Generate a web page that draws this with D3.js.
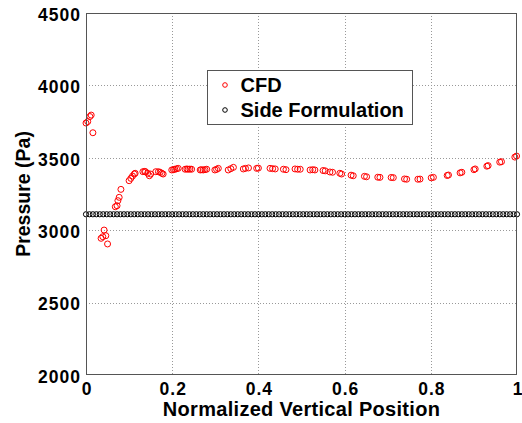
<!DOCTYPE html>
<html>
<head>
<meta charset="utf-8">
<script src="https://cdn.jsdelivr.net/npm/d3@7"></script>
<style>
  body { margin: 0; background: #fff; }
  text { font-family: "Liberation Sans", Arial, sans-serif; font-weight: bold; }
</style>
</head>
<body>
<svg id="chart" width="522" height="423"></svg>
<script>
// CFD samples (normalized position, pressure in Pa)
const cfdX = [
  0.000, 0.004, 0.009, 0.012, 0.016,
  0.035, 0.039, 0.042, 0.046, 0.050,
  0.068, 0.072, 0.074, 0.077, 0.081,
  0.100, 0.104, 0.108, 0.112, 0.114,
  0.132, 0.136, 0.138, 0.143, 0.147, 0.150,
  0.162, 0.168, 0.172, 0.176, 0.179,
  0.199, 0.203, 0.206, 0.210, 0.214,
  0.230, 0.234, 0.237, 0.241, 0.245,
  0.265, 0.268, 0.272, 0.276, 0.280,
  0.299, 0.303, 0.307,
  0.330, 0.336, 0.342,
  0.365, 0.370, 0.377, 0.396, 0.400,
  0.427, 0.433, 0.439, 0.458, 0.464,
  0.485, 0.491, 0.497, 0.520, 0.526, 0.531,
  0.550, 0.555, 0.566, 0.572, 0.589, 0.593,
  0.615, 0.620, 0.646, 0.651, 0.677, 0.682,
  0.708, 0.713, 0.739, 0.744, 0.770, 0.775,
  0.801, 0.806, 0.838, 0.841, 0.868, 0.872,
  0.900, 0.903, 0.930, 0.933, 0.960, 0.964,
  0.995, 0.999
];
const cfdP = [
  3740, 3750, 3785, 3795, 3673,
  2944, 2955, 3001, 2962, 2905,
  3162, 3169, 3204, 3227, 3282,
  3342, 3358, 3374, 3388, 3393,
  3404, 3406, 3404, 3393, 3376, 3388,
  3404, 3404, 3400, 3393, 3388,
  3416, 3418, 3421, 3424, 3427,
  3421, 3423, 3421, 3422, 3421,
  3416, 3418, 3416, 3418, 3421,
  3416, 3420, 3427,
  3416, 3425, 3434,
  3423, 3427, 3430, 3427, 3429,
  3427, 3425, 3423, 3421, 3418,
  3423, 3421, 3421, 3416, 3418, 3416,
  3412, 3410, 3402, 3400, 3393, 3388,
  3380, 3376, 3372, 3369, 3366, 3365,
  3364, 3363, 3354, 3352, 3352, 3353,
  3362, 3365, 3378, 3381, 3396, 3400,
  3418, 3423, 3442, 3446, 3470, 3473,
  3505, 3512
];

// Side formulation: constant pressure at evenly sampled positions
const sidePressure = 3110;
const sideX = [
  0.000, 0.008, 0.016, 0.024, 0.032, 0.040, 0.048, 0.056, 0.064, 0.072,
  0.080, 0.088, 0.096, 0.104, 0.112, 0.120, 0.128, 0.136, 0.144, 0.152,
  0.160, 0.168, 0.176, 0.184, 0.192, 0.200, 0.208, 0.216, 0.224, 0.232,
  0.240, 0.248, 0.256, 0.264, 0.272, 0.280, 0.288, 0.296, 0.304, 0.312,
  0.320, 0.328, 0.336, 0.344, 0.352, 0.360, 0.368, 0.376, 0.384, 0.392,
  0.400, 0.408, 0.416, 0.424, 0.432, 0.440, 0.448, 0.456, 0.464, 0.472,
  0.480, 0.488, 0.496, 0.504, 0.512, 0.520, 0.528, 0.536, 0.544, 0.552,
  0.560, 0.568, 0.576, 0.584, 0.592, 0.600, 0.608, 0.616, 0.624, 0.632,
  0.640, 0.648, 0.656, 0.664, 0.672, 0.680, 0.688, 0.696, 0.704, 0.712,
  0.720, 0.728, 0.736, 0.744, 0.752, 0.760, 0.768, 0.776, 0.784, 0.792,
  0.800, 0.808, 0.816, 0.824, 0.832, 0.840, 0.848, 0.856, 0.864, 0.872,
  0.880, 0.888, 0.896, 0.904, 0.912, 0.920, 0.928, 0.936, 0.944, 0.952,
  0.960, 0.968, 0.976, 0.984, 0.992, 1.000
];

const xTicks = [0, 0.2, 0.4, 0.6, 0.8, 1];
const yTicks = [2000, 2500, 3000, 3500, 4000, 4500];
const seriesNames = ["CFD", "Side Formulation"];

const margin = { left: 86, top: 13, right: 5, bottom: 48 };
const width = 522, height = 423;
const plotW = width - margin.left - margin.right;
const plotH = height - margin.top - margin.bottom;

const svg = d3.select("#chart");
svg.append("rect").attr("width", width).attr("height", height).attr("fill", "#fff");

const g = svg.append("g").attr("transform", `translate(${margin.left},${margin.top})`);

const x = d3.scaleLinear().domain([0, 1]).range([0, plotW]);
const y = d3.scaleLinear().domain([2000, 4500]).range([plotH, 0]);

// dotted grid, inner lines only
g.append("g")
  .selectAll("line")
  .data(xTicks.slice(1, -1))
  .join("line")
  .attr("x1", (d) => Math.round(x(d)) + 0.5)
  .attr("x2", (d) => Math.round(x(d)) + 0.5)
  .attr("y1", 0)
  .attr("y2", plotH)
  .attr("stroke", "#999")
  .attr("stroke-dasharray", "1,2");

g.append("g")
  .selectAll("line")
  .data(yTicks.slice(1, -1))
  .join("line")
  .attr("x1", 0)
  .attr("x2", plotW)
  .attr("y1", (d) => Math.round(y(d)) + 0.5)
  .attr("y2", (d) => Math.round(y(d)) + 0.5)
  .attr("stroke", "#999")
  .attr("stroke-dasharray", "1,2");

// axes as tick labels only (MATLAB style box drawn separately)
const xAxis = d3.axisBottom(x).tickValues(xTicks).tickSize(0).tickPadding(8)
  .tickFormat((d) => (d === 0 || d === 1 ? String(d) : d3.format(".1f")(d)));
const yAxis = d3.axisLeft(y).tickValues(yTicks).tickSize(0).tickPadding(5)
  .tickFormat(d3.format("d"));

const gx = g.append("g").attr("transform", `translate(0,${plotH})`).call(xAxis);
const gy = g.append("g").call(yAxis);
[gx, gy].forEach((ax) => {
  ax.select(".domain").remove();
  ax.selectAll("text").attr("font-size", 17.5).attr("fill", "#000")
    .attr("letter-spacing", 1)
    .attr("font-family", "Liberation Sans, Arial, sans-serif").attr("font-weight", "bold");
});
gy.selectAll("text").attr("dy", "0.42em");
gx.selectAll("text").attr("dx", 0.5);

// markers
const sideData = sideX.map((d) => ({ x: d, p: sidePressure }));
g.append("g")
  .selectAll("circle")
  .data(sideData)
  .join("circle")
  .attr("cx", (d) => x(d.x))
  .attr("cy", (d) => y(d.p))
  .attr("r", 2.6)
  .attr("fill", "none")
  .attr("stroke", "#000")
  .attr("stroke-width", 1);

const cfdData = cfdX.map((d, i) => ({ x: d, p: cfdP[i] }));
g.append("g")
  .selectAll("circle")
  .data(cfdData)
  .join("circle")
  .attr("cx", (d) => x(d.x))
  .attr("cy", (d) => y(d.p))
  .attr("r", 3)
  .attr("fill", "none")
  .attr("stroke", "#ff0000")
  .attr("stroke-width", 1);

// box
g.append("rect")
  .attr("x", 0.5)
  .attr("y", 0.5)
  .attr("width", plotW - 1)
  .attr("height", plotH - 1)
  .attr("fill", "none")
  .attr("stroke", "#555");

// axis titles
svg.append("text")
  .attr("x", margin.left + plotW / 2)
  .attr("y", 416)
  .attr("text-anchor", "middle")
  .attr("font-size", 20)
  .attr("letter-spacing", 0.3)
  .text("Normalized Vertical Position");

svg.append("text")
  .attr("transform", `translate(30,${margin.top + plotH / 2}) rotate(-90)`)
  .attr("text-anchor", "middle")
  .attr("font-size", 19.5)
  .text("Pressure (Pa)");

// legend
const legend = svg.append("g").attr("transform", "translate(207.5,70.5)");
legend.append("rect")
  .attr("width", 205)
  .attr("height", 54)
  .attr("fill", "#fff")
  .attr("stroke", "#555");

const legendColors = ["#ff0000", "#000"];
seriesNames.forEach((name, i) => {
  legend.append("circle")
    .attr("cx", 17.5)
    .attr("cy", 14.5 + i * 25)
    .attr("r", 2.3)
    .attr("fill", "none")
    .attr("stroke", legendColors[i]);
  legend.append("text")
    .attr("x", 33)
    .attr("y", 14.5 + i * 25)
    .attr("dy", "0.36em")
    .attr("font-size", 20)
    .text(name);
});
</script>
</body>
</html>
